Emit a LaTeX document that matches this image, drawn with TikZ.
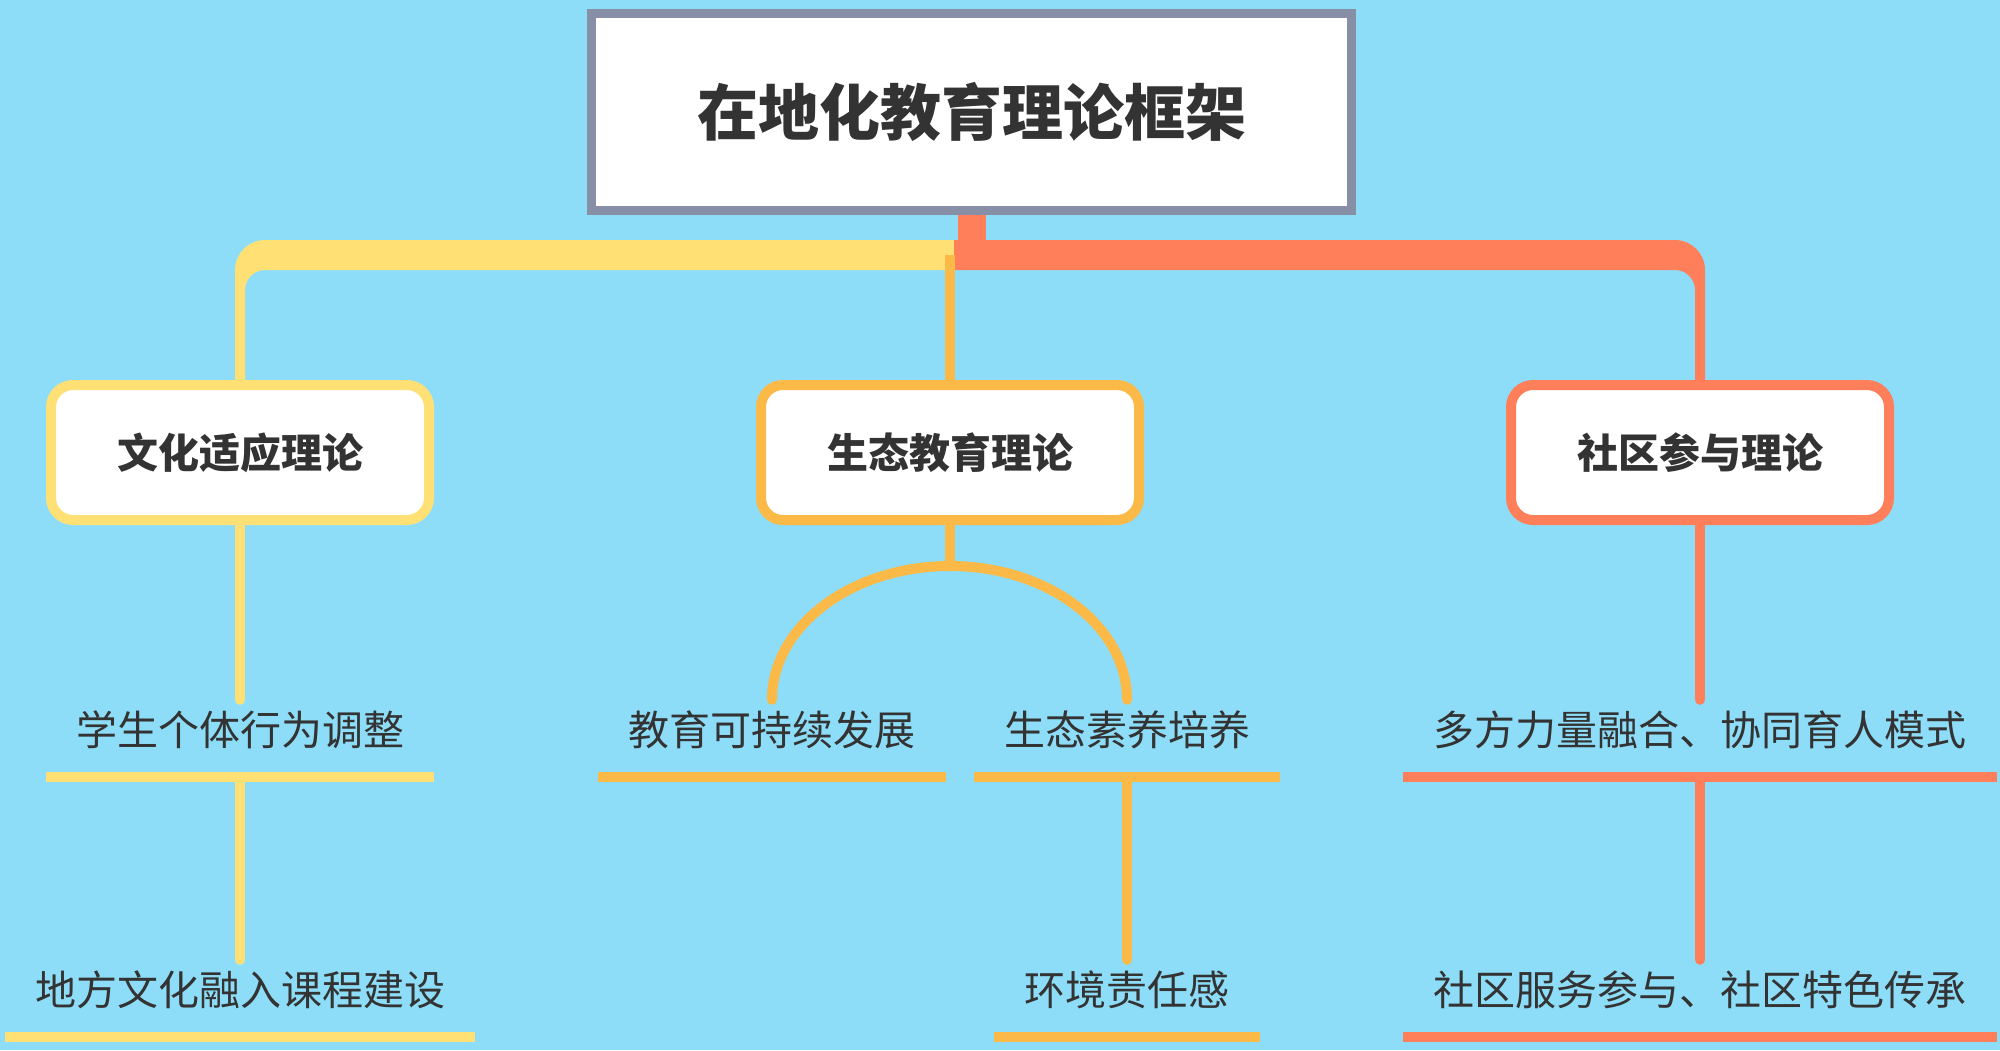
\documentclass[tikz,border=0pt]{standalone}
\usepackage{fontspec}
\setmainfont{Noto Sans CJK SC}
\usetikzlibrary{calc}
\definecolor{bgc}{HTML}{8EDDF8}
\definecolor{grayb}{HTML}{868FA5}
\definecolor{yelc}{HTML}{FFE074}
\definecolor{midc}{HTML}{FBBA48}
\definecolor{corc}{HTML}{FF7F5A}
\definecolor{txt}{HTML}{333333}
\begin{document}
\begin{tikzpicture}[x=1pt,y=-1pt,
  titlebox/.style={draw=grayb, line width=9pt, fill=white, minimum width=760pt, minimum height=197pt, text=txt, font=\fontsize{61pt}{70pt}\selectfont\bfseries},
  theory/.style={draw=#1, line width=10pt, fill=white, rounded corners=22pt, minimum width=378pt, minimum height=135pt, text=txt, font=\fontsize{41pt}{49pt}\selectfont\bfseries},
  leaf/.style={inner xsep=30pt, inner ysep=0pt, text height=33pt, text depth=3pt, text=txt, font=\fontsize{41pt}{49pt}\selectfont, anchor=base},
  uline/.style={line width=10pt},
  stem/.style={line width=10pt, line cap=round}
]
\fill[bgc] (0,0) rectangle (2000,1050);
\useasboundingbox (0,0) rectangle (2000,1050);

% nodes
\node[titlebox] (title) at (971.5,112) {在地化教育理论框架};
\node[theory=yelc] (cult) at (240,452.5) {文化适应理论};
\node[theory=midc] (eco) at (950,452.5) {生态教育理论};
\node[theory=corc] (soc) at (1700,452.5) {社区参与理论};

\node[leaf] (l1) at (240,745) {学生个体行为调整};
\node[leaf] (l2) at (240,1005) {地方文化融入课程建设};
\node[leaf] (e1) at (772,745) {教育可持续发展};
\node[leaf] (e2) at (1127,745) {生态素养培养};
\node[leaf] (e3) at (1127,1005) {环境责任感};
\node[leaf] (r1) at (1700,745) {多方力量融合、协同育人模式};
\node[leaf] (r2) at (1700,1005) {社区服务参与、社区特色传承};

% top branches
\coordinate (split) at (954,255);
\fill[yelc] ($(cult.north)+(-5,0)$) -- ($(cult.north)+(-5,-110)$)
  .. controls ($(cult.north)+(-5,-126.57)$) and ($(cult.north)+(8.43,-140)$) .. ($(cult.north)+(25,-140)$)
  -- ($(split)+(0,-15)$) -- ($(split)+(0,15)$) -- ($(cult.north)+(25,-110)$)
  .. controls ($(cult.north)+(13.95,-110)$) and ($(cult.north)+(5,-101.05)$) .. ($(cult.north)+(5,-90)$)
  -- ($(cult.north)+(5,0)$) -- cycle;
\fill[corc] ($(soc.north)+(5,0)$) -- ($(soc.north)+(5,-110)$)
  .. controls ($(soc.north)+(5,-126.57)$) and ($(soc.north)+(-8.43,-140)$) .. ($(soc.north)+(-25,-140)$)
  -- ($(split)+(0,-15)$) -- ($(split)+(0,15)$) -- ($(soc.north)+(-25,-110)$)
  .. controls ($(soc.north)+(-13.95,-110)$) and ($(soc.north)+(-5,-101.05)$) .. ($(soc.north)+(-5,-90)$)
  -- ($(soc.north)+(-5,0)$) -- cycle;
\draw[corc, line width=28pt] (title.south) -- (title.south |- split);
\draw[midc, line width=10pt] (eco.north) -- (eco.north |- split);

% left column
\draw[stem, yelc] (cult.south) -- ([yshift=12pt]l1.north);
\draw[uline, yelc] ([yshift=-29pt]l1.south west) -- ([yshift=-29pt]l1.south east);
\draw[stem, yelc] ([yshift=-29pt]l1.south) -- ([yshift=12pt]l2.north);
\draw[uline, yelc] ([yshift=-29pt]l2.south west) -- ([yshift=-29pt]l2.south east);

% middle column
\coordinate (atop) at (950,566);
\draw[stem, midc] (eco.south) -- (atop);
\draw[stem, midc] (atop) .. controls +(-98,0) and +(0,-74) .. ([yshift=12pt]e1.north);
\draw[stem, midc] (atop) .. controls +(98,0) and +(0,-74) .. ([yshift=12pt]e2.north);
\draw[uline, midc] ([yshift=-29pt]e1.south west) -- ([yshift=-29pt]e1.south east);
\draw[uline, midc] ([yshift=-29pt]e2.south west) -- ([yshift=-29pt]e2.south east);
\draw[stem, midc] ([yshift=-29pt]e2.south) -- ([yshift=12pt]e3.north);
\draw[uline, midc] ([yshift=-29pt]e3.south west) -- ([yshift=-29pt]e3.south east);

% right column
\draw[stem, corc] (soc.south) -- ([yshift=12pt]r1.north);
\draw[uline, corc] ([yshift=-29pt]r1.south west) -- ([yshift=-29pt]r1.south east);
\draw[stem, corc] ([yshift=-29pt]r1.south) -- ([yshift=12pt]r2.north);
\draw[uline, corc] ([yshift=-29pt]r2.south west) -- ([yshift=-29pt]r2.south east);
\end{tikzpicture}
\end{document}
